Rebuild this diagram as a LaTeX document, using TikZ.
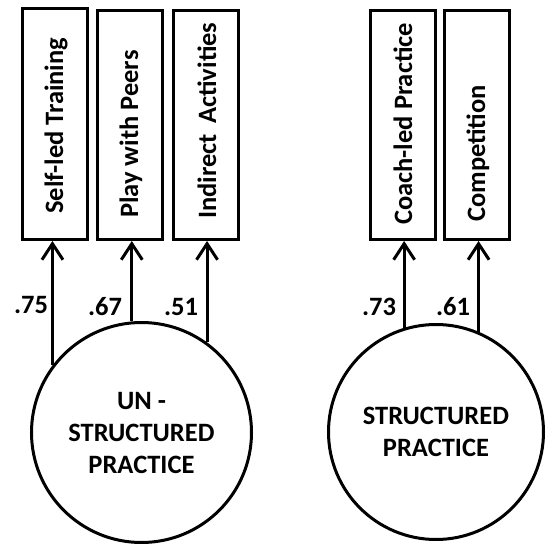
\documentclass[tikz,border=0pt]{standalone}
\usepackage{fontspec}
\setmainfont{Carlito}
\usetikzlibrary{arrows.meta}
\begin{document}
\begin{tikzpicture}[x=1pt,y=-1pt,
  every node/.style={font=\fontsize{26.5}{32}\selectfont\bfseries},
  boxnode/.style={draw,line width=3pt,minimum width=65pt,inner sep=0pt},
  boxtext/.style={rotate=90,anchor=west,inner sep=0pt},
  latent/.style={draw,circle,line width=3pt,inner sep=0pt,align=center},
  arr/.style={line width=3pt,-{Straight Barb[length=16pt,width=21pt,line width=3pt]}},
  coef/.style={inner sep=0pt}]
\useasboundingbox (0,0) rectangle (547,546);
% indicator boxes
\node[boxnode,minimum height=231pt] (b1) at (55,124) {};
\node[boxnode,minimum height=229pt] (b2) at (130,125) {};
\node[boxnode,minimum height=229pt] (b3) at (206,125) {};
\node[boxnode,minimum height=229pt] (b4) at (402.5,125) {};
\node[boxnode,minimum height=229pt] (b5) at (477,125) {};
\node[boxtext] (t1) at (56,214) {Self-led Training};
\node[boxtext] (t2) at (131,218) {Play with Peers};
\node[boxtext] (t3) at (207,219) {Indirect\, Activities};
\node[boxtext] (t4) at (403,225) {Coach-led Practice};
\node[boxtext] (t5) at (478,222) {Competition};
% latent factors
\node[latent,minimum size=220pt] (c1) at (141.5,432.5) {UN -\\STRUCTURED\\PRACTICE};
\node[latent,minimum size=215pt] (c2) at (436,432) {STRUCTURED\\PRACTICE};
% loadings
\draw[arr] (c1.143.4) -- (c1.143.4 |- b1.south);
\draw[arr] (c1.95.9) -- (c1.95.9 |- b2.south);
\draw[arr] (c1.54.6) -- (c1.54.6 |- b3.south);
\draw[arr] (c2.107.9) -- (c2.107.9 |- b4.south);
\draw[arr] (c2.67.9) -- (c2.67.9 |- b5.south);
\node[coef] (l1) at (31,305) {.75};
\node[coef] (l2) at (105,307) {.67};
\node[coef] (l3) at (181,307) {.51};
\node[coef] (l4) at (379,307) {.73};
\node[coef] (l5) at (453,307) {.61};
\end{tikzpicture}
\end{document}
